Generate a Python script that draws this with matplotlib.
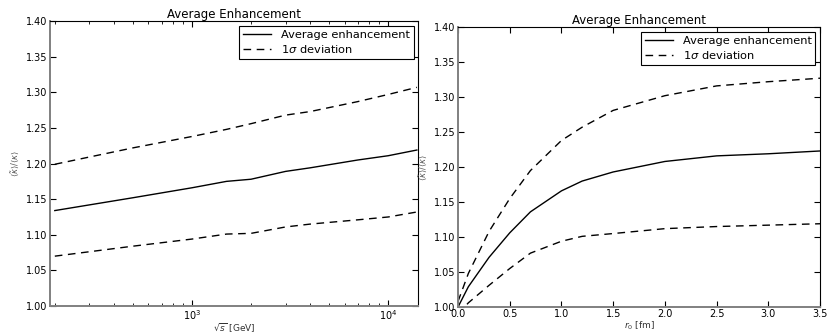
import matplotlib
matplotlib.use("Agg")
import matplotlib.pyplot as plt
import numpy as np
from matplotlib.ticker import MultipleLocator

# left panel: collision energy sqrt(s) in GeV
sqrts = [200, 500, 1000, 1500, 2000, 3000, 4000, 7000, 10000, 14000]
mean_s = [1.134, 1.152, 1.166, 1.175, 1.178, 1.189, 1.194, 1.205, 1.211, 1.219]
upper_s = [1.199, 1.222, 1.238, 1.248, 1.256, 1.268, 1.273, 1.287, 1.297, 1.307]
lower_s = [1.070, 1.084, 1.094, 1.101, 1.102, 1.111, 1.115, 1.121, 1.125, 1.132]

# right panel: r0 in fm
r0 = [0.0, 0.1, 0.3, 0.5, 0.7, 1.0, 1.2, 1.5, 2.0, 2.5, 3.0, 3.5]
mean_r = [1.000, 1.029, 1.071, 1.106, 1.136, 1.166, 1.180, 1.193, 1.208, 1.216, 1.219, 1.223]
upper_r = [1.008, 1.048, 1.108, 1.155, 1.195, 1.238, 1.257, 1.281, 1.302, 1.316, 1.322, 1.327]
lower_r = [0.990, 1.006, 1.031, 1.055, 1.077, 1.094, 1.101, 1.105, 1.112, 1.115, 1.117, 1.119]

ylab = r'$\langle\tilde{\kappa}\rangle/\langle\kappa\rangle$'

fig = plt.figure(figsize=(8.29, 3.34), dpi=100)
ax1 = fig.add_axes([0.0603, 0.0838, 0.444, 0.853])
ax2 = fig.add_axes([0.5525, 0.0808, 0.4367, 0.838])


def style_axes(ax):
    ax.set_ylim(1.0, 1.4)
    ax.yaxis.set_major_locator(MultipleLocator(0.05))
    ax.yaxis.set_major_formatter(plt.FormatStrFormatter('%.2f'))
    ax.tick_params(which='both', direction='in', top=True, right=True,
                   labelsize=7, pad=2, color='black')
    ax.tick_params(axis='x', pad=1.5)
    ax.tick_params(which='major', length=4, width=0.8)
    ax.tick_params(which='minor', length=2, width=0.6)
    for side in ['left', 'bottom']:
        ax.spines[side].set_color('#808080')
        ax.spines[side].set_linewidth(1.4)
    for side in ['top', 'right']:
        ax.spines[side].set_color('black')
        ax.spines[side].set_linewidth(0.8)
    ax.set_title('Average Enhancement', fontsize=8.5, pad=2)
    ax.set_ylabel(ylab, fontsize=6, color='#555555', labelpad=3)
    leg = ax.legend(loc='upper right', fontsize=8.2, fancybox=False,
                    framealpha=1, borderaxespad=0.4, handlelength=2.5,
                    labelspacing=0.3, borderpad=0.35)
    leg.get_frame().set_edgecolor('black')
    leg.get_frame().set_linewidth(0.8)


dash = (0, (5.5, 4))

ax1.plot(sqrts, mean_s, color='black', lw=1.0, label='Average enhancement')
ax1.plot(sqrts, upper_s, color='black', lw=1.0, ls=dash, label=r'1$\sigma$ deviation')
ax1.plot(sqrts, lower_s, color='black', lw=1.0, ls=dash)
ax1.set_xscale('log')
ax1.set_xlim(189, 14200)
ax1.set_xlabel(r'$\sqrt{s}$ [GeV]', fontsize=6.5, color='#333333', labelpad=0)
style_axes(ax1)

ax2.plot(r0, mean_r, color='black', lw=1.0, label='Average enhancement')
ax2.plot(r0, upper_r, color='black', lw=1.0, ls=dash, label=r'1$\sigma$ deviation')
ax2.plot(r0, lower_r, color='black', lw=1.0, ls=dash)
ax2.set_xlim(0, 3.5)
ax2.xaxis.set_major_locator(MultipleLocator(0.5))
ax2.xaxis.set_major_formatter(plt.FormatStrFormatter('%.1f'))
ax2.set_xlabel(r'$r_0$ [fm]', fontsize=6.5, color='#333333', labelpad=0)
style_axes(ax2)

fig.savefig('out.png', dpi=100)
plt.close(fig)
